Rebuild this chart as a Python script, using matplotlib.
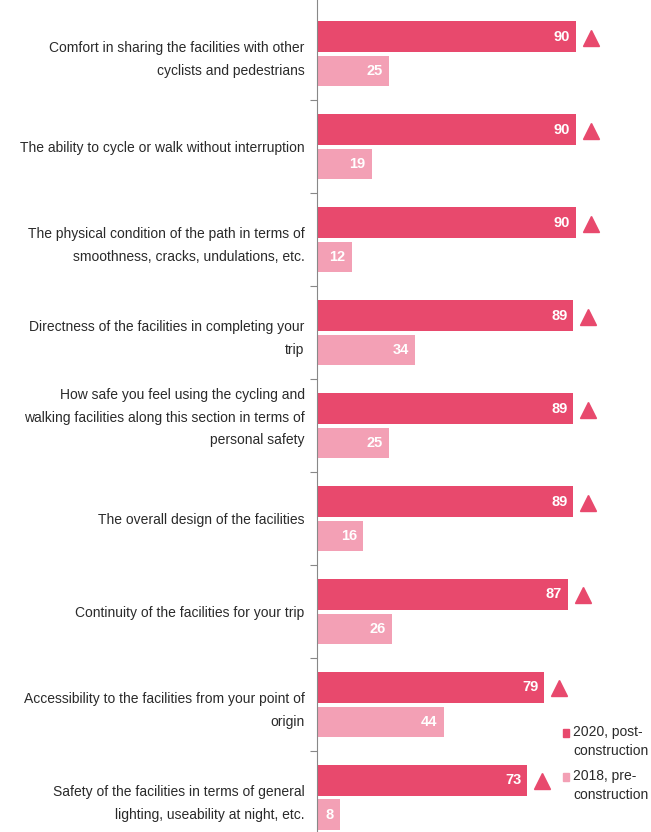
import matplotlib
matplotlib.use("Agg")
import matplotlib.pyplot as plt
from matplotlib.patches import Rectangle
from matplotlib.transforms import offset_copy, ScaledTranslation

categories = [
    "Comfort in sharing the facilities with other\ncyclists and pedestrians",
    "The ability to cycle or walk without interruption",
    "The physical condition of the path in terms of\nsmoothness, cracks, undulations, etc.",
    "Directness of the facilities in completing your\ntrip",
    "How safe you feel using the cycling and\nwalking facilities along this section in terms of\npersonal safety",
    "The overall design of the facilities",
    "Continuity of the facilities for your trip",
    "Accessibility to the facilities from your point of\norigin",
    "Safety of the facilities in terms of general\nlighting, useability at night, etc.",
]
values_2020 = [90, 90, 90, 89, 89, 89, 87, 79, 73]
values_2018 = [25, 19, 12, 34, 25, 16, 26, 44, 8]
legend_labels = ["2020, post-\nconstruction", "2018, pre-\nconstruction"]

DARK = "#E8496D"
LIGHT = "#F3A0B5"
TEXT = "#2a2a2a"
FONT = ["Liberation Sans", "DejaVu Sans"]

W, H = 651, 832
fig = plt.figure(figsize=(W / 100, H / 100), dpi=100)
ax = fig.add_axes([317 / W, 0, 1 - 317 / W, 1])

n = len(categories)
pos = list(range(n))
bh = 0.33
off = 0.185
ax.barh([p - off for p in pos], values_2020, height=bh, color=DARK, zorder=2)
ax.barh([p + off for p in pos], values_2018, height=bh, color=LIGHT, zorder=2)

ax.set_xlim(0, 116)
ax.set_ylim(8.37, -0.58)

for p, v in zip(pos, values_2020):
    t = offset_copy(ax.transData, fig=fig, x=-6, y=0, units="dots")
    ax.text(v, p - off, str(v), transform=t, ha="right", va="center",
            color="white", fontsize=10.5, fontweight="bold", family=FONT, zorder=3)
    t2 = offset_copy(ax.transData, fig=fig, x=15, y=-1, units="dots")
    ax.plot([v], [p - off], marker="^", markersize=12, color=DARK,
            transform=t2, clip_on=False, zorder=3)
for p, v in zip(pos, values_2018):
    t = offset_copy(ax.transData, fig=fig, x=-6, y=0, units="dots")
    ax.text(v, p + off, str(v), transform=t, ha="right", va="center",
            color="white", fontsize=10.5, fontweight="bold", family=FONT, zorder=3)

ax.set_yticks(pos)
ax.set_yticklabels(categories, family=FONT, fontsize=10, color=TEXT,
                   linespacing=1.8)
ax.tick_params(axis="y", which="major", length=0, pad=9)
ax.set_yticks([p + 0.5 for p in pos[:-1]], minor=True)
ax.tick_params(axis="y", which="minor", length=5, color="#888888", width=0.8)
ax.set_xticks([])
for s in ["top", "right", "bottom"]:
    ax.spines[s].set_visible(False)
ax.spines["left"].set_color("#888888")
ax.spines["left"].set_linewidth(0.8)
ax.patch.set_alpha(0)

# the three-line label sits a little higher in the reference
lbl = ax.get_yticklabels()[4]
lbl.set_transform(lbl.get_transform() + ScaledTranslation(0, 14 / 100, fig.dpi_scale_trans))

# legend: square aligned with the first line of each two-line label
leg_colors = [DARK, LIGHT]
leg_top = [733, 777]
for c, lab, yc in zip(leg_colors, legend_labels, leg_top):
    fig.patches.append(Rectangle((563 / W, 1 - (yc + 4) / H), 6 / W, 8 / H,
                                 transform=fig.transFigure, color=c))
    fig.text(573 / W, 1 - (yc - 8) / H, lab, ha="left", va="top",
             family=FONT, fontsize=10, color=TEXT, linespacing=1.45)

fig.savefig("out.png", dpi=100)
